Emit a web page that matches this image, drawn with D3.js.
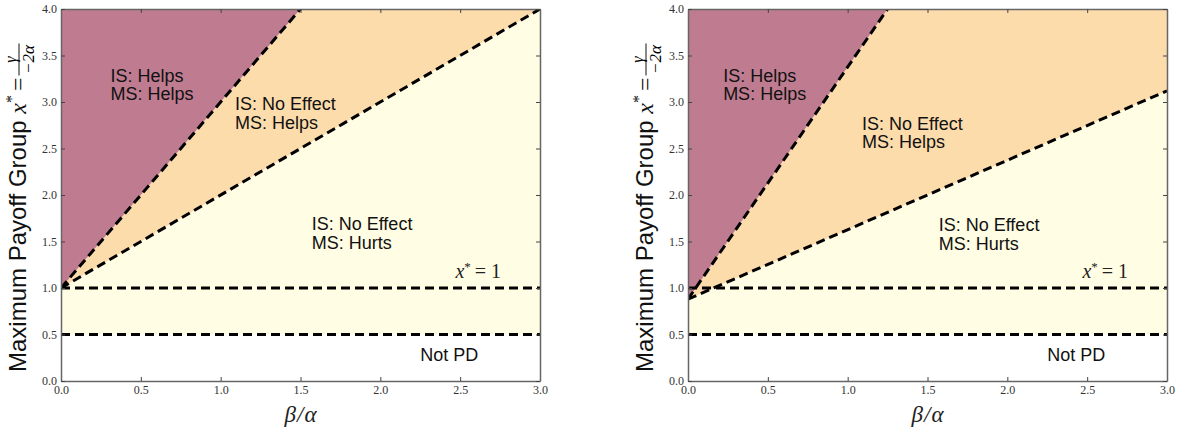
<!DOCTYPE html>
<html>
<head>
<meta charset="utf-8">
<script src="https://cdn.jsdelivr.net/npm/d3@7"></script>
<style>
  body { margin: 0; background: #fff; }
  svg { display: block; }
  .tick text { font-family: "Liberation Serif", serif; font-size: 12px; fill: #333; }
  .lab { font-family: "Liberation Sans", Arial, sans-serif; font-size: 18px; fill: #111; }
</style>
</head>
<body>
<svg width="1182" height="432"></svg>
<script>
// boundary lines, [beta/alpha, x*]
var leftUpper = [[0, 1.0], [1.5, 4.0]]
var leftLower = [[0, 1.0], [3.0, 4.0]]
var rightUpper = [[0, 0.88], [1.25, 4.0]]
var rightLower = [[0, 0.88], [3.0, 3.12]]
var hLines = [1.0, 0.5]
var xTicks = [0, 0.5, 1, 1.5, 2, 2.5, 3]
var yTicks = [0, 0.5, 1, 1.5, 2, 2.5, 3, 3.5, 4]

// region annotations [x, y, line1, line2]
var leftNotes = [
  [0.31, 3.22, "IS: Helps", "MS: Helps"],
  [1.09, 2.91, "IS: No Effect", "MS: Helps"],
  [1.57, 1.62, "IS: No Effect", "MS: Hurts"]
]
var rightNotes = [
  [0.22, 3.22, "IS: Helps", "MS: Helps"],
  [1.09, 2.70, "IS: No Effect", "MS: Helps"],
  [1.57, 1.61, "IS: No Effect", "MS: Hurts"]
]
var notPD = [2.25, 0.22]
var xStarLabel = [2.47, 1.11]

var colPurple = "#bf7c90", colOrange = "#fddcac", colYellow = "#fffde3"

var svg = d3.select("svg")
var serif = "Liberation Serif, serif"

function drawPanel(left, upper, lower, notes, clipId){
  var margin = {top: 9, bottom: 381},
      x = d3.scaleLinear().domain([0, 3]).range([left, left + 479]),
      y = d3.scaleLinear().domain([0, 4]).range([margin.bottom, margin.top])

  var g = svg.append("g")
  g.append("clipPath").attr("id", clipId).append("rect")
    .attr("x", x(0)).attr("y", y(4)).attr("width", x(3) - x(0)).attr("height", y(0) - y(4))
  var plot = g.append("g").attr("clip-path", "url(#" + clipId + ")")

  var pts = function(arr){ return arr.map(function(d){ return [x(d[0]), y(d[1])] }) }
  var u0 = upper[0], u1 = upper[1], l0 = lower[0], l1 = lower[1]

  // yellow: from 0.5 up to the lower line
  plot.append("polygon").attr("fill", colYellow)
    .attr("points", pts([[0, 0.5], l0, l1, [3, 0.5]]).join(" "))
  // orange: between lines
  plot.append("polygon").attr("fill", colOrange)
    .attr("points", pts([u0, u1, [3, 4], l1, l0]).join(" "))
  // purple: above upper line
  plot.append("polygon").attr("fill", colPurple)
    .attr("points", pts([[0, 4], [0, u0[1]], u0, u1]).join(" "))

  var line = d3.line().x(function(d){ return x(d[0]) }).y(function(d){ return y(d[1]) })
  var dashed = function(sel){
    sel.attr("fill", "none").attr("stroke", "#000").attr("stroke-width", 3)
      .attr("stroke-dasharray", "9,5")
  }
  hLines.forEach(function(h){
    plot.append("path").datum([[0, h], [3, h]]).attr("d", line).call(dashed)
  })
  plot.append("path").datum(lower).attr("d", line).call(dashed)
  plot.append("path").datum(upper).attr("d", line).call(dashed)

  // axes, ticks inward on all sides
  var ax = function(a, tr, labels){
    var s = g.append("g").attr("transform", tr).call(a)
    s.select(".domain").attr("stroke", "#666").attr("stroke-width", 1.5)
    s.selectAll(".tick line").attr("stroke", "#444")
    if (!labels) s.selectAll(".tick text").remove()
  }
  ax(d3.axisBottom(x).tickValues(xTicks).tickSizeInner(-4).tickSizeOuter(0).tickPadding(4).tickFormat(d3.format(".1f")),
     "translate(0," + y(0) + ")", true)
  ax(d3.axisTop(x).tickValues(xTicks).tickSizeInner(-4).tickSizeOuter(0),
     "translate(0," + y(4) + ")", false)
  ax(d3.axisLeft(y).tickValues(yTicks).tickSizeInner(-4).tickSizeOuter(0).tickPadding(4).tickFormat(d3.format(".1f")),
     "translate(" + x(0) + ",0)", true)
  ax(d3.axisRight(y).tickValues(yTicks).tickSizeInner(-4).tickSizeOuter(0),
     "translate(" + x(3) + ",0)", false)

  // annotations
  notes.forEach(function(n){
    var t = g.append("text").attr("class", "lab").attr("x", x(n[0])).attr("y", y(n[1]))
    t.append("tspan").text(n[2])
    t.append("tspan").attr("x", x(n[0])).attr("dy", 18.5).text(n[3])
  })
  g.append("text").attr("class", "lab").attr("x", x(notPD[0])).attr("y", y(notPD[1])).text("Not PD")
  var xs = g.append("text").attr("x", x(xStarLabel[0])).attr("y", y(xStarLabel[1]))
    .style("font-family", serif).style("font-size", "20px").attr("fill", "#222")
  xs.append("tspan").style("font-style", "italic").text("x")
  xs.append("tspan").attr("dy", -7).style("font-size", "13px").text("*")
  xs.append("tspan").attr("dy", 7).attr("dx", 4).text("=")
  xs.append("tspan").attr("dx", 5).text("1")

  // x label
  var xl = g.append("text").attr("x", (x(0) + x(3)) / 2).attr("y", 422).attr("text-anchor", "middle")
    .style("font-family", serif).style("font-size", "23px").style("font-style", "italic").attr("fill", "#222")
  xl.append("tspan").text("β")
  xl.append("tspan").attr("dx", 1).text("/")
  xl.append("tspan").attr("dx", 1).text("α")

  // y label, rotated
  var yl = g.append("g").attr("transform", "translate(" + (left - 35) + ",372) rotate(-90)")
  var yt = yl.append("text").attr("x", 0).attr("y", 0)
    .style("font-family", "Liberation Sans, Arial, sans-serif").style("font-size", "24px").attr("fill", "#111")
  yt.append("tspan").text("Maximum Payoff Group ")
  yt.append("tspan").style("font-family", serif).style("font-style", "italic").text("x")
  yt.append("tspan").attr("dy", -9).style("font-family", serif).style("font-size", "16px").text("*")
  yt.append("tspan").attr("dy", 9).attr("dx", 4).style("font-family", serif).text("=")
  var w = yt.node().getComputedTextLength()
  var fc = w + 22
  yl.append("text").attr("x", fc).attr("y", -10.5).attr("text-anchor", "middle")
    .style("font-family", serif).style("font-size", "16px").style("font-style", "italic").text("γ")
  yl.append("line").attr("x1", fc - 16).attr("x2", fc + 16).attr("y1", -7).attr("y2", -7)
    .attr("stroke", "#111").attr("stroke-width", 1)
  yl.append("text").attr("x", fc).attr("y", 7.5).attr("text-anchor", "middle")
    .style("font-family", serif).style("font-size", "17px").style("font-style", "italic").text("−2α")
}

drawPanel(61, leftUpper, leftLower, leftNotes, "clipL")
drawPanel(688, rightUpper, rightLower, rightNotes, "clipR")
</script>
</body>
</html>
